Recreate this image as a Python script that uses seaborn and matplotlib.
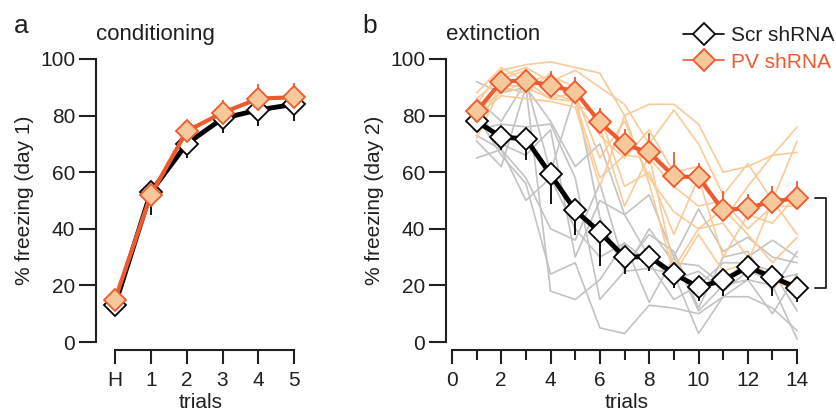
import numpy as np
import pandas as pd
import matplotlib
matplotlib.use("Agg")
import matplotlib.pyplot as plt
import seaborn as sns

# ---------------- data ----------------
cond_labels = ["H", "1", "2", "3", "4", "5"]
cond_scr_mean = [13, 53, 70, 79, 82, 84]
cond_scr_sem = [2, 8, 5, 5, 5.5, 6]
cond_pv_mean = [15, 52, 74.5, 81, 86, 86.5]
cond_pv_sem = [2, 3, 3, 4.5, 5, 5]

ext_trials = list(range(1, 15))
ext_scr_mean = [78, 72.4, 71.8, 59.2, 46.5, 38.8, 30, 30.2, 24.1, 19.4, 21.8, 26.5, 22.9, 19.2]
ext_scr_sem = [3, 4.7, 7.4, 10.6, 8.8, 12, 6, 5, 5, 5, 5.6, 4.7, 6.5, 5]
ext_pv_mean = [81.5, 92, 92.4, 90.6, 88.5, 77.6, 69.8, 67, 58.6, 58.2, 46.5, 47.4, 49.6, 50.9]
ext_pv_sem = [3, 3, 4, 5, 5, 5, 5.5, 6.7, 8.5, 5, 6.7, 5, 5.6, 6.1]

scr_mouse1 = [92, 88, 90, 78, 62, 70, 45, 52, 30, 47, 32, 37, 30, 28]
scr_mouse2 = [86, 78, 92, 60, 88, 44, 25, 40, 28, 27, 20, 30, 36, 30]
scr_mouse3 = [80, 66, 56, 24, 28, 5, 3, 13, 12, 10, 16, 16, 12, 4]
scr_mouse4 = [75, 77, 76, 77, 58, 15, 25, 26, 24, 3, 16, 22, 20, 1]
scr_mouse5 = [71, 62, 90, 18, 15, 22, 35, 28, 15, 20, 28, 28, 25, 11]
scr_mouse6 = [65, 68, 58, 40, 36, 56, 27, 38, 32, 12, 30, 32, 18, 32]
scr_mouse7 = [82, 70, 66, 75, 30, 50, 45, 30, 22, 25, 18, 25, 22, 24]
scr_mouse8 = [73, 68, 50, 58, 40, 30, 35, 14, 30, 11, 20, 22, 10, 24]

pv_mouse1 = [84, 96, 98, 99, 97, 95, 80, 84, 84, 77, 60, 62, 66, 76]
pv_mouse2 = [78, 94, 97, 92, 96, 90, 84, 70, 82, 70, 52, 63, 50, 71]
pv_mouse3 = [86, 93, 96, 88, 85, 73, 65, 75, 60, 62, 43, 55, 66, 67]
pv_mouse4 = [82, 88, 92, 86, 85, 58, 66, 65, 55, 48, 50, 40, 48, 48]
pv_mouse5 = [72, 90, 88, 95, 84, 80, 55, 60, 38, 58, 30, 45, 42, 52]
pv_mouse6 = [76, 91, 90, 86, 88, 65, 78, 58, 46, 40, 47, 38, 28, 37]
pv_mouse7 = [88, 97, 92, 94, 90, 76, 48, 66, 26, 40, 42, 30, 22, 18]
pv_mouse8 = [80, 87, 86, 85, 83, 55, 80, 56, 24, 38, 25, 28, 50, 38]

scr_mice = [scr_mouse1, scr_mouse2, scr_mouse3, scr_mouse4,
            scr_mouse5, scr_mouse6, scr_mouse7, scr_mouse8]
pv_mice = [pv_mouse1, pv_mouse2, pv_mouse3, pv_mouse4,
           pv_mouse5, pv_mouse6, pv_mouse7, pv_mouse8]

# ---------------- style ----------------
sns.set_style("ticks")
plt.rcParams["font.family"] = ["Liberation Sans", "DejaVu Sans"]
TXT = "#231F20"
ORANGE = "#EE5A2F"
PEACH = "#F6C89A"
LIGHT_OR = "#F8CB98"
GRAY = "#C3C3C3"

fig = plt.figure(figsize=(8.36, 4.11), dpi=100)
ax_a = fig.add_axes([96 / 836, 69 / 411, 209 / 836, 283 / 411])
ax_b = fig.add_axes([446 / 836, 69 / 411, 361 / 836, 283 / 411])

MS = 11.5
LS_FS = 15
TITLE_FS = 16


def style_axes(ax):
    for s in ["top", "right"]:
        ax.spines[s].set_visible(False)
    for s in ["left", "bottom"]:
        ax.spines[s].set_color(TXT)
        ax.spines[s].set_linewidth(1.5)
    ax.spines["bottom"].set_position(("outward", 6))
    ax.set_ylim(0, 100)
    ax.set_yticks([0, 20, 40, 60, 80, 100])
    ax.tick_params(axis="y", left=True, length=12, width=1.5, color=TXT,
                   labelsize=LS_FS, labelcolor=TXT, pad=3, direction="out")
    ax.tick_params(axis="x", which="major", bottom=True, length=10, width=1.5,
                   color=TXT, labelsize=LS_FS, labelcolor=TXT, pad=5, direction="out")
    ax.tick_params(axis="x", which="minor", bottom=True, length=7, width=1.5,
                   color=TXT, direction="out")
    ax.patch.set_alpha(0)
    ax.grid(False)


# ---------------- panel a ----------------
cond_x = np.arange(len(cond_labels))
ax_a.vlines(cond_x, np.array(cond_scr_mean) - np.array(cond_scr_sem), cond_scr_mean,
            color="black", lw=1.3, zorder=2, clip_on=False)
ax_a.vlines(cond_x, cond_pv_mean, np.array(cond_pv_mean) + np.array(cond_pv_sem),
            color=ORANGE, lw=1.3, zorder=2, clip_on=False)
sns.lineplot(x=cond_x, y=cond_scr_mean, ax=ax_a, color="black", lw=3.5,
             marker="D", markersize=MS, markerfacecolor="white",
             markeredgecolor="black", markeredgewidth=1.3, zorder=3, clip_on=False)
sns.lineplot(x=cond_x, y=cond_pv_mean, ax=ax_a, color=ORANGE, lw=3,
             marker="D", markersize=MS, markerfacecolor=PEACH,
             markeredgecolor=ORANGE, markeredgewidth=1.3, zorder=4, clip_on=False)
style_axes(ax_a)
ax_a.set_xlim(-0.53, 5.3)
ax_a.set_xticks(cond_x)
ax_a.set_xticklabels(cond_labels)
ax_a.spines["bottom"].set_bounds(0, 5)
ax_a.set_xlabel("trials", fontsize=LS_FS, color=TXT, labelpad=2)
ax_a.set_ylabel("% freezing (day 1)", fontsize=LS_FS, color=TXT, labelpad=4)
ax_a.text(0.0, 1.05, "conditioning", transform=ax_a.transAxes, fontsize=TITLE_FS,
          color=TXT, ha="left", va="bottom")

# ---------------- panel b ----------------
rows = []
for grp, mice in [("Scr", scr_mice), ("PV", pv_mice)]:
    for mi, vals in enumerate(mice):
        for t, v in zip(ext_trials, vals):
            rows.append({"group": grp, "mouse": f"{grp}{mi}", "trial": t, "freezing": v})
indiv = pd.DataFrame(rows)

sns.lineplot(data=indiv[indiv.group == "Scr"], x="trial", y="freezing", units="mouse",
             estimator=None, color=GRAY, lw=1.2, ax=ax_b, zorder=1)
sns.lineplot(data=indiv[indiv.group == "PV"], x="trial", y="freezing", units="mouse",
             estimator=None, color=LIGHT_OR, lw=1.2, ax=ax_b, zorder=1)

ax_b.vlines(ext_trials, np.array(ext_scr_mean) - np.array(ext_scr_sem), ext_scr_mean,
            color="black", lw=1.3, zorder=2)
ax_b.vlines(ext_trials, ext_pv_mean, np.array(ext_pv_mean) + np.array(ext_pv_sem),
            color=ORANGE, lw=1.3, zorder=2)
sns.lineplot(x=ext_trials, y=ext_scr_mean, ax=ax_b, color="black", lw=3.5,
             marker="D", markersize=MS, markerfacecolor="white",
             markeredgecolor="black", markeredgewidth=1.3, zorder=3, clip_on=False,
             label="Scr shRNA")
sns.lineplot(x=ext_trials, y=ext_pv_mean, ax=ax_b, color=ORANGE, lw=3,
             marker="D", markersize=MS, markerfacecolor=PEACH,
             markeredgecolor=ORANGE, markeredgewidth=1.3, zorder=4, clip_on=False,
             label="PV shRNA")
style_axes(ax_b)
ax_b.set_xlim(-0.24, 14.4)
ax_b.set_xticks(range(0, 15, 2))
ax_b.set_xticks(range(1, 15, 2), minor=True)
ax_b.spines["bottom"].set_bounds(0, 14)
ax_b.set_xlabel("trials", fontsize=LS_FS, color=TXT, labelpad=2)
ax_b.set_ylabel("% freezing (day 2)", fontsize=LS_FS, color=TXT, labelpad=4)
ax_b.text(0.0, 1.05, "extinction", transform=ax_b.transAxes, fontsize=TITLE_FS,
          color=TXT, ha="left", va="bottom")

# significance bracket
bx0, bx1 = 14.73, 15.18
ax_b.plot([bx0, bx1, bx1, bx0], [ext_pv_mean[-1], ext_pv_mean[-1], ext_scr_mean[-1],
                                 ext_scr_mean[-1]], color=TXT, lw=1.3, clip_on=False)

# legend
leg = ax_b.legend(loc="upper left", bbox_to_anchor=(0.656, 1.115), frameon=False,
                  fontsize=LS_FS, handlelength=2.0, handletextpad=0.3,
                  labelspacing=0.35, borderaxespad=0, borderpad=0)
leg.get_texts()[0].set_color(TXT)
leg.get_texts()[1].set_color(ORANGE)
for h in leg.legend_handles:
    h.set_linewidth(1.2)

# panel letters
fig.text(14 / 836, 1 - 26 / 411, "a", fontsize=19, color=TXT, va="center", ha="left")
fig.text(362 / 836, 1 - 26 / 411, "b", fontsize=19, color=TXT, va="center", ha="left")

fig.savefig("out.png", dpi=100)
